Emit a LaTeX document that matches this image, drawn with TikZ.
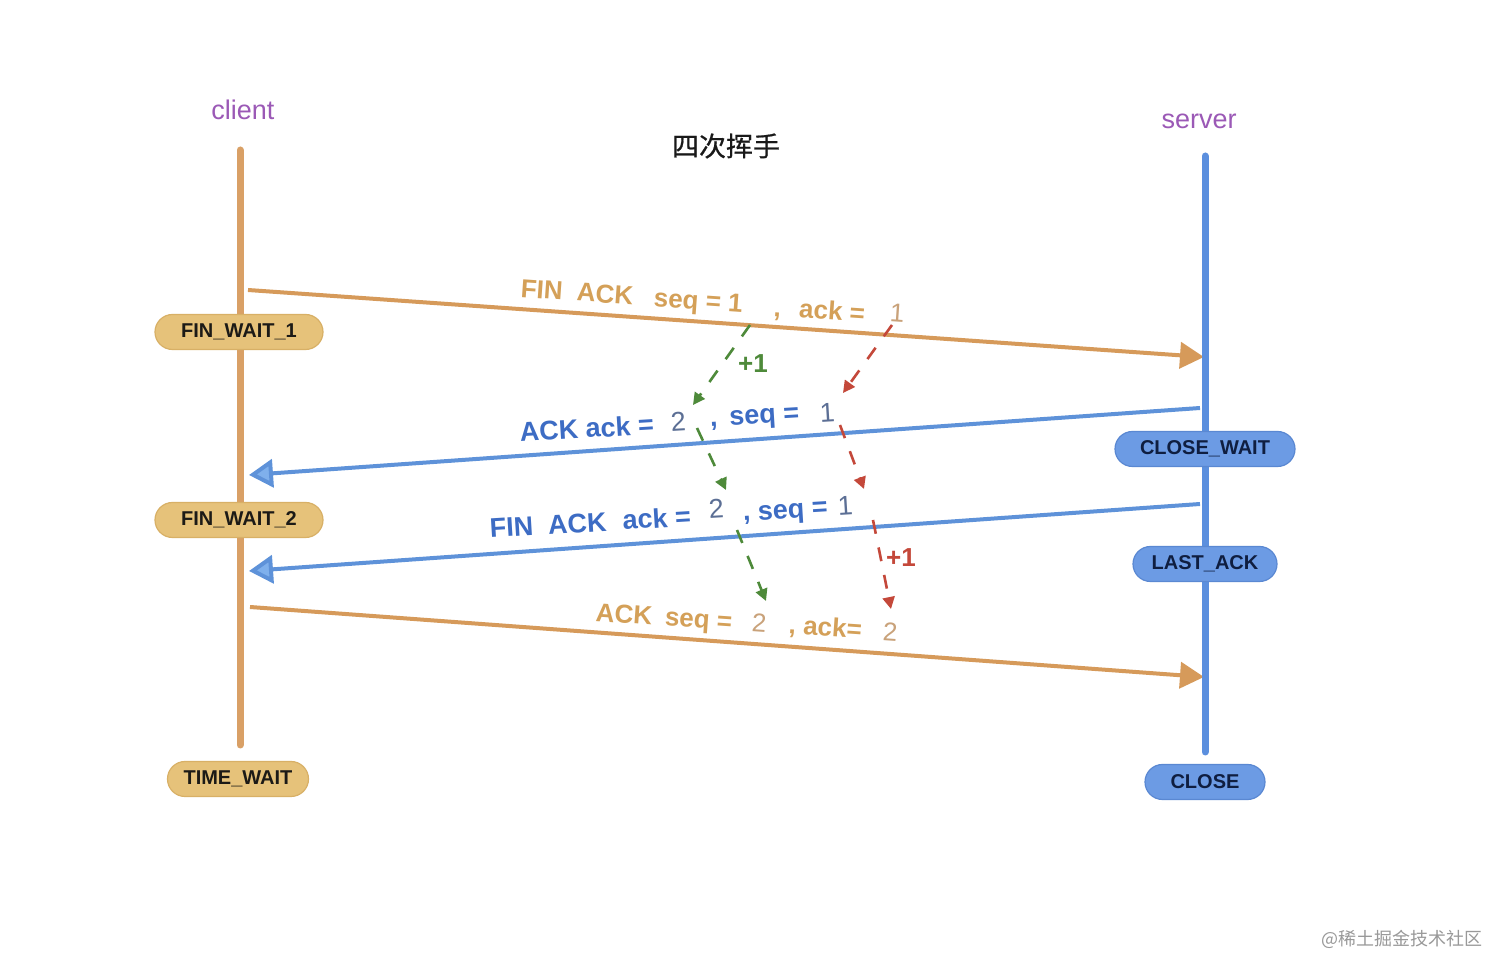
\documentclass[tikz,border=0pt]{standalone}
\usepackage{fontspec}
\setmainfont{Liberation Sans}
\newfontfamily\cjk{Noto Sans CJK SC}
\newfontfamily\cjkmed[FakeBold=0.7]{Noto Sans CJK SC}
\usetikzlibrary{arrows.meta}
\definecolor{clientC}{HTML}{D9A066}
\definecolor{serverC}{HTML}{5B8FDE}
\definecolor{msgO}{HTML}{D69A5A}
\definecolor{msgB}{HTML}{5E92D9}
\definecolor{headB}{HTML}{7FB0EC}
\definecolor{labO}{HTML}{D4A058}
\definecolor{digO}{HTML}{C9A27A}
\definecolor{labB}{HTML}{3D6CC4}
\definecolor{digB}{HTML}{5C6F95}
\definecolor{pillY}{HTML}{E6C27A}
\definecolor{pillYd}{HTML}{D8B066}
\definecolor{pillB}{HTML}{6C9BE4}
\definecolor{pillBd}{HTML}{5A88D2}
\definecolor{txtY}{HTML}{1C1A16}
\definecolor{txtB}{HTML}{0F1E40}
\definecolor{purp}{HTML}{9B59B6}
\definecolor{grn}{HTML}{4E8A3A}
\definecolor{rd}{HTML}{C4483A}
\begin{document}
\begin{tikzpicture}[x=0.5pt,y=-0.5pt,
  lifeline/.style={line width=3.5pt,line cap=round},
  omsg/.style={line width=2pt,draw=msgO,-{Triangle[length=12pt,width=13pt,fill=msgO]}},
  bmsg/.style={line width=2pt,draw=msgB,-{Triangle[length=12pt,width=14pt,fill=headB]}},
  pill/.style={rounded corners=8.75pt,minimum height=17.5pt,inner sep=0pt,line width=0.6pt,font=\bfseries\fontsize{10}{12}\selectfont},
  ypill/.style={pill,fill=pillY,draw=pillYd,text=txtY},
  bpill/.style={pill,fill=pillB,draw=pillBd,text=txtB},
  olab/.style={anchor=base west,inner sep=0pt,text=labO,font=\bfseries\fontsize{13}{15}\selectfont,rotate=-4},
  odig/.style={anchor=base west,inner sep=0pt,text=digO,font=\fontsize{13}{15}\selectfont,rotate=-4},
  blab/.style={anchor=base west,inner sep=0pt,text=labB,font=\bfseries\fontsize{13.5}{15}\selectfont,rotate=3.5},
  bdig/.style={anchor=base west,inner sep=0pt,text=digB,font=\fontsize{13.5}{15}\selectfont,rotate=3.5},
  gdash/.style={draw=grn,line width=1.3pt,dash pattern=on 7pt off 7pt,-{Triangle[length=6pt,width=6pt,fill=grn]}},
  rdash/.style={draw=rd,line width=1.3pt,dash pattern=on 7pt off 7pt,-{Triangle[length=6pt,width=6pt,fill=rd]}},
  plusone/.style={inner sep=0pt,font=\bfseries\fontsize{13}{15}\selectfont}
]
\useasboundingbox[fill=white] (0,0) rectangle (1496,956);

% headings
\node[text=purp,font=\fontsize{13.5}{16}\selectfont] (client) at (243,110) {client};
\node[text=purp,font=\fontsize{13.5}{16}\selectfont] (server) at (1199,121) {server};
\node[font=\cjkmed\fontsize{13.5}{16}\selectfont,text=black!90] (title) at (726,146) {四次挥手};

% endpoints
\coordinate (c1) at (248,290);  \coordinate (s1) at (1204,357);
\coordinate (s2) at (1200,408); \coordinate (c2) at (249,475);
\coordinate (s3) at (1200,504); \coordinate (c3) at (249,571);
\coordinate (c4) at (250,607);  \coordinate (s4) at (1204,677);

% messages
\draw[omsg] (c1) -- (s1);
\draw[bmsg] (s2) -- (c2);
\draw[bmsg] (s3) -- (c3);
\draw[omsg] (c4) -- (s4);

% lifelines
\coordinate (ctop) at (240,150); \coordinate (cbot) at (240,745);
\coordinate (stop) at (1205,156); \coordinate (sbot) at (1205,752);
\draw[lifeline,clientC] (ctop) -- (cbot);
\draw[lifeline,serverC] (stop) -- (sbot);

% states
\node[ypill,minimum width=84pt] (fw1) at (239,332) {FIN\_WAIT\_1};
\node[ypill,minimum width=84pt] (fw2) at (239,520) {FIN\_WAIT\_2};
\node[ypill,minimum width=70.5pt] (tw) at (238,779) {TIME\_WAIT};
\node[bpill,minimum width=90pt] (cw) at (1205,449) {CLOSE\_WAIT};
\node[bpill,minimum width=72pt] (la) at (1205,564) {LAST\_ACK};
\node[bpill,minimum width=60pt] (cl) at (1205,782) {CLOSE};

% label 1
\node[olab] (l1a) at (520,297) {FIN\hspace{0.55em}ACK\hspace{0.8em}seq = 1};
\node[olab] (l1b) at (773,316) {,\hspace{0.7em}ack =};
\node[odig] (l1c) at (889,321) {1};
% label 2
\node[blab] (l2a) at (520,442) {ACK ack =};
\node[bdig] (l2b) at (671,432) {2};
\node[blab] (l2c) at (710,427) {,\hspace{0.45em}seq =};
\node[bdig] (l2d) at (820,423) {1};
% label 3
\node[blab] (l3a) at (490,538) {FIN\hspace{0.55em}ACK\hspace{0.6em}ack =};
\node[bdig] (l3b) at (709,519) {2};
\node[blab] (l3c) at (743,521) {, seq =};
\node[bdig] (l3d) at (838,516) {1};
% label 4
\node[olab] (l4a) at (595,621) {ACK\hspace{0.5em}seq =};
\node[odig] (l4b) at (751,631) {2};
\node[olab] (l4c) at (788,633) {, ack=};
\node[odig] (l4d) at (882,640) {2};

% increments
\coordinate (g0) at (750,325); \coordinate (g1) at (693,405);
\coordinate (g2s) at (697,428); \coordinate (g2) at (726,490);
\coordinate (g3s) at (737,530); \coordinate (g3) at (766,601);
\draw[gdash] (g0) -- (g1);
\draw[gdash] (g2s) -- (g2);
\draw[gdash] (g3s) -- (g3);
\node[plusone,text=grn] (gp) at (753,364) {+1};

\coordinate (r0) at (892,325); \coordinate (r1) at (843,393);
\coordinate (r2s) at (840,425); \coordinate (r2) at (864,489);
\coordinate (r3s) at (873,520); \coordinate (r3) at (891,609);
\draw[rdash] (r0) -- (r1);
\draw[rdash] (r2s) -- (r2);
\draw[rdash] (r3s) -- (r3);
\node[plusone,text=rd] (rp) at (901,558) {+1};

% watermark
\node[anchor=east,text=black!40,font=\cjk\fontsize{9}{11}\selectfont] (wm) at (1490,939) {@稀土掘金技术社区};
\end{tikzpicture}
\end{document}
